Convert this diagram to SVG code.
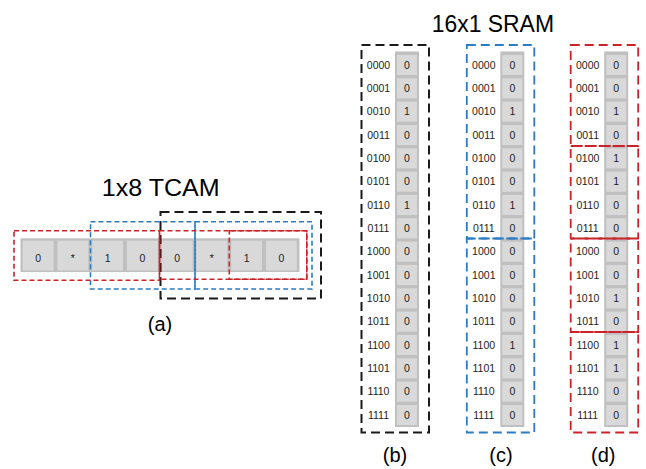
<svg xmlns="http://www.w3.org/2000/svg" xmlns:xlink="http://www.w3.org/1999/xlink" width="646" height="469" viewBox="0 0 646 469">
  <style>
    .title { font-family: "Liberation Sans", Arial, sans-serif; font-size: 24px; fill: #000; }
    .cap { font-family: "Liberation Sans", Arial, sans-serif; font-size: 20px; fill: #000; text-anchor: middle; }
    .bit { font-family: "Liberation Sans", Arial, sans-serif; font-size: 10.5px; fill: #222; text-anchor: middle; }
    .addr { font-family: "Liberation Sans", Arial, sans-serif; font-size: 10.5px; fill: #222; text-anchor: middle; }
    .bar { fill: #c0c0c0; }
    .cell { fill: #d9d9d9; }
    .blk { fill: none; stroke: #1a1a1a; stroke-width: 2; stroke-dasharray: 9 5; }
    .blu { fill: none; stroke: #2a7dc4; stroke-width: 1.6; stroke-dasharray: 5 3; }
    .red { fill: none; stroke: #cc2229; stroke-width: 1.6; stroke-dasharray: 5 3; }
    .bluL { fill: none; stroke: #2a7dc4; stroke-width: 1.8; stroke-dasharray: 9 5; }
    .redL { fill: none; stroke: #cc2229; stroke-width: 1.8; stroke-dasharray: 9 5; }
  </style>
  <defs>
    <!-- one 16x1 memory column: bar, cells and address labels (values added per column) -->
    <g id="column">
      <rect class="bar" x="395" y="51.5" width="24" height="375.5"/>
      <rect class="cell" x="397" y="55" width="20" height="20"/>
      <rect class="cell" x="397" y="78.33" width="20" height="20"/>
      <rect class="cell" x="397" y="101.67" width="20" height="20"/>
      <rect class="cell" x="397" y="125" width="20" height="20"/>
      <rect class="cell" x="397" y="148.33" width="20" height="20"/>
      <rect class="cell" x="397" y="171.67" width="20" height="20"/>
      <rect class="cell" x="397" y="195" width="20" height="20"/>
      <rect class="cell" x="397" y="218.33" width="20" height="20"/>
      <rect class="cell" x="397" y="241.67" width="20" height="20"/>
      <rect class="cell" x="397" y="265" width="20" height="20"/>
      <rect class="cell" x="397" y="288.33" width="20" height="20"/>
      <rect class="cell" x="397" y="311.67" width="20" height="20"/>
      <rect class="cell" x="397" y="335" width="20" height="20"/>
      <rect class="cell" x="397" y="358.33" width="20" height="20"/>
      <rect class="cell" x="397" y="381.67" width="20" height="20"/>
      <rect class="cell" x="397" y="405" width="20" height="20"/>
      <g class="addr">
        <text x="378.5" y="68.7">0000</text>
        <text x="378.5" y="92">0001</text>
        <text x="378.5" y="115.4">0010</text>
        <text x="378.5" y="138.7">0011</text>
        <text x="378.5" y="162">0100</text>
        <text x="378.5" y="185.4">0101</text>
        <text x="378.5" y="208.7">0110</text>
        <text x="378.5" y="232">0111</text>
        <text x="378.5" y="255.4">1000</text>
        <text x="378.5" y="278.7">1001</text>
        <text x="378.5" y="302">1010</text>
        <text x="378.5" y="325.4">1011</text>
        <text x="378.5" y="348.7">1100</text>
        <text x="378.5" y="372">1101</text>
        <text x="378.5" y="395.4">1110</text>
        <text x="378.5" y="418.7">1111</text>
      </g>
    </g>
  </defs>

  <!-- 1x8 TCAM -->
  <g id="tcam">
    <text class="title" x="101.7" y="195.5" textLength="118" lengthAdjust="spacingAndGlyphs">1x8 TCAM</text>
    <rect class="bar" x="20.5" y="238.3" width="279" height="33.7"/>
    <rect class="cell" x="22.7" y="240.7" width="30.8" height="29.8"/>
    <rect class="cell" x="57.46" y="240.7" width="30.8" height="29.8"/>
    <rect class="cell" x="92.22" y="240.7" width="30.8" height="29.8"/>
    <rect class="cell" x="126.98" y="240.7" width="30.8" height="29.8"/>
    <rect class="cell" x="161.74" y="240.7" width="30.8" height="29.8"/>
    <rect class="cell" x="196.5" y="240.7" width="30.8" height="29.8"/>
    <rect class="cell" x="231.26" y="240.7" width="30.8" height="29.8"/>
    <rect class="cell" x="266.02" y="240.7" width="30.8" height="29.8"/>
    <g class="bit">
      <text x="38.1" y="261.5">0</text>
      <text x="72.9" y="261.5">*</text>
      <text x="107.6" y="261.5">1</text>
      <text x="142.4" y="261.5">0</text>
      <text x="177.1" y="261.5">0</text>
      <text x="211.9" y="261.5">*</text>
      <text x="246.7" y="261.5">1</text>
      <text x="281.4" y="261.5">0</text>
    </g>
    <text class="cap" x="160" y="331">(a)</text>
  </g>

  <!-- TCAM groupings -->
  <g id="tcam-groups">
    <rect class="blk" x="160.5" y="212" width="160.5" height="86.5"/>
    <rect class="blu" x="90.5" y="221.8" width="104.5" height="67.2"/>
    <rect class="blu" x="195" y="221.8" width="117" height="67.2"/>
    <rect class="red" x="14" y="230.8" width="145.5" height="49.5"/>
    <rect class="red" x="159.5" y="230.8" width="147.3" height="48.4"/>
    <rect class="red" x="229.3" y="230.8" width="77.5" height="48.4"/>
  </g>

  <text class="title" x="431.7" y="31.7" textLength="122.3" lengthAdjust="spacingAndGlyphs">16x1 SRAM</text>

  <!-- column (b) -->
  <g id="sram-b">
    <use xlink:href="#column"/>
    <g class="bit">
      <text x="407" y="68.7">0</text>
      <text x="407" y="92">0</text>
      <text x="407" y="115.4">1</text>
      <text x="407" y="138.7">0</text>
      <text x="407" y="162">0</text>
      <text x="407" y="185.4">0</text>
      <text x="407" y="208.7">1</text>
      <text x="407" y="232">0</text>
      <text x="407" y="255.4">0</text>
      <text x="407" y="278.7">0</text>
      <text x="407" y="302">0</text>
      <text x="407" y="325.4">0</text>
      <text x="407" y="348.7">0</text>
      <text x="407" y="372">0</text>
      <text x="407" y="395.4">0</text>
      <text x="407" y="418.7">0</text>
    </g>
    <rect class="blk" x="361.5" y="45" width="67.5" height="387.5"/>
    <text class="cap" x="395" y="462">(b)</text>
  </g>

  <!-- column (c) -->
  <g id="sram-c" transform="translate(105.3 0)">
    <use xlink:href="#column"/>
    <g class="bit">
      <text x="407" y="68.7">0</text>
      <text x="407" y="92">0</text>
      <text x="407" y="115.4">1</text>
      <text x="407" y="138.7">0</text>
      <text x="407" y="162">0</text>
      <text x="407" y="185.4">0</text>
      <text x="407" y="208.7">1</text>
      <text x="407" y="232">0</text>
      <text x="407" y="255.4">0</text>
      <text x="407" y="278.7">0</text>
      <text x="407" y="302">0</text>
      <text x="407" y="325.4">0</text>
      <text x="407" y="348.7">1</text>
      <text x="407" y="372">0</text>
      <text x="407" y="395.4">0</text>
      <text x="407" y="418.7">0</text>
    </g>
    <rect class="bluL" x="361.5" y="45" width="67.5" height="193.5"/>
    <rect class="bluL" x="361.5" y="238.5" width="67.5" height="194"/>
    <text class="cap" x="395.7" y="462">(c)</text>
  </g>

  <!-- column (d) -->
  <g id="sram-d" transform="translate(209.2 0)">
    <use xlink:href="#column"/>
    <g class="bit">
      <text x="407" y="68.7">0</text>
      <text x="407" y="92">0</text>
      <text x="407" y="115.4">1</text>
      <text x="407" y="138.7">0</text>
      <text x="407" y="162">1</text>
      <text x="407" y="185.4">1</text>
      <text x="407" y="208.7">0</text>
      <text x="407" y="232">0</text>
      <text x="407" y="255.4">0</text>
      <text x="407" y="278.7">0</text>
      <text x="407" y="302">1</text>
      <text x="407" y="325.4">0</text>
      <text x="407" y="348.7">1</text>
      <text x="407" y="372">1</text>
      <text x="407" y="395.4">0</text>
      <text x="407" y="418.7">0</text>
    </g>
    <rect class="redL" x="361.5" y="45" width="67.5" height="101"/>
    <rect class="redL" x="361.5" y="146" width="67.5" height="92.5"/>
    <rect class="redL" x="361.5" y="238.5" width="67.5" height="93.5"/>
    <rect class="redL" x="361.5" y="332" width="67.5" height="100.5"/>
    <text class="cap" x="394.1" y="462">(d)</text>
  </g>
</svg>
